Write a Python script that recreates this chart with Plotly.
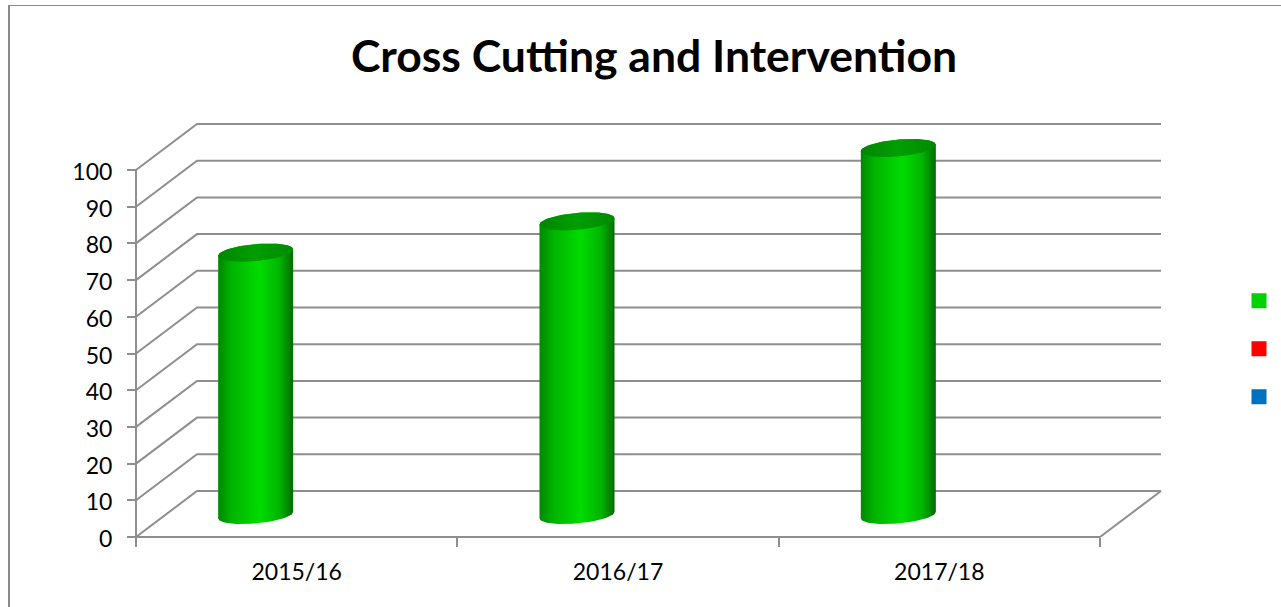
import numpy as np
import plotly.graph_objects as go

# Chart data
title_text = "Cross Cutting and Intervention"
years = ["2015/16", "2016/17", "2017/18"]
series_a = [71.5, 80, 100]
series_b = []
series_c = []
value_ticks = list(range(0, 101, 10))

# Colours
GRID = "#8e8e8e"
SWATCHES = ["#00d200", "#ff0000", "#0070c0"]
FONT = "Lato, Open Sans, sans-serif"

# Figure size, plot width (a strip on the right holds the legend) and the
# pixel box of the front axes
W, H = 1281, 607
PLOT_W = W - 50
L, RIGHT, T, BOTTOM = 136, 1100, 170, 537
per_cat = (RIGHT - L) / 3
per_val = (BOTTOM - T) / 100

# Oblique depth of the floor and back wall, in axis units
DEPTH_X = 61 / per_cat
DEPTH_Y = 46 / per_val

# Cylinder proportions, in axis units
BAR_SHIFT = 0.5 - 41 / per_cat
RX = 37.5 / per_cat
RY = 8.5 / per_val
TILT = 3.2 / per_val
BASE = 22 / per_val


def arc(cx, cy, t):
    return cx + RX * np.cos(t), cy + RY * np.sin(t) + TILT * np.cos(t)


fig = go.Figure()

# Wall and floor grid: a diagonal from the axis, then a run along the back wall
gx, gy = [], []
for v in value_ticks:
    gx += [0, DEPTH_X, 3 + DEPTH_X, None]
    gy += [v, v + DEPTH_Y, v + DEPTH_Y, None]
gx += [3, 3 + DEPTH_X, None]
gy += [0, DEPTH_Y, None]
# Front axis lines
gx += [0, 3, None, 0, 0, None]
gy += [0, 0, None, 0, 100, None]
fig.add_trace(go.Scatter(x=gx, y=gy, mode="lines", showlegend=False,
                         hoverinfo="skip", line=dict(color=GRID, width=2)))

# Cylinders: shaded body with a darker elliptical cap
upper = np.linspace(0, np.pi, 40)
lower = np.linspace(np.pi, 2 * np.pi, 40)
whole = np.linspace(0, 2 * np.pi, 80)
for i, (year, val) in enumerate(zip(years, series_a)):
    cx = i + BAR_SHIFT
    tx, ty = arc(cx, BASE + val, upper)
    bx, by = arc(cx, BASE, lower)
    fig.add_trace(go.Scatter(
        x=np.r_[tx, bx, tx[0]], y=np.r_[ty, by, ty[0]],
        mode="lines", fill="toself", showlegend=False,
        name=year, line=dict(width=0, color="#00d200"),
        fillgradient=dict(type="horizontal", colorscale=[
            [0, "#008800"], [0.18, "#00b400"], [0.55, "#00dc00"],
            [0.82, "#00b400"], [1, "#006c00"]]),
    ))
    cap_x, cap_y = arc(cx, BASE + val, whole)
    fig.add_trace(go.Scatter(
        x=cap_x, y=cap_y,
        mode="lines", fill="toself", showlegend=False,
        name=year, line=dict(width=0, color="#009a00"),
        fillgradient=dict(type="horizontal", colorscale=[
            [0, "#008600"], [0.5, "#009e00"], [1, "#008a00"]]),
    ))

# Legend swatches for the three series; their names are blank
for colour, vals in zip(SWATCHES, [series_a, series_b, series_c]):
    fig.add_trace(go.Scatter(
        x=[None], y=[None], mode="markers", name=" ", legendgroup=colour,
        marker=dict(symbol="square", size=15, color=colour, line=dict(width=0)),
    ))

# Chart-area border on the left and top edges
shapes = [
    dict(type="line", xref="paper", yref="paper", layer="below",
         x0=9 / PLOT_W, x1=9 / PLOT_W, y0=0, y1=1 - 5.5 / H,
         line=dict(color="#8a8a8a", width=2)),
    dict(type="line", xref="paper", yref="paper", layer="below",
         x0=8 / PLOT_W, x1=W / PLOT_W, y0=1 - 5.5 / H, y1=1 - 5.5 / H,
         line=dict(color="#8a8a8a", width=1)),
]

fig.update_layout(
    width=W, height=H, autosize=False,
    margin=dict(l=0, r=W - PLOT_W, t=0, b=0, pad=0),
    paper_bgcolor="white", plot_bgcolor="white",
    shapes=shapes,
    title=dict(text=f"<b>{title_text}</b>", font=dict(family=FONT, size=44.5, color="black"),
               xref="container", x=654 / W, xanchor="center",
               yref="container", y=1 - 56 / H, yanchor="middle"),
    xaxis=dict(
        domain=[0, 1], anchor="free", position=(H - BOTTOM) / H,
        range=[-L / per_cat, (PLOT_W - L) / per_cat],
        showgrid=False, zeroline=False, fixedrange=True, showline=False,
        tickmode="array", tickvals=[0.5, 1.5, 2.5], ticktext=years,
        ticks="outside", ticklen=14, tickcolor="rgba(0,0,0,0)", tickwidth=1,
        tickfont=dict(family=FONT, size=23, color="black"),
        minor=dict(tickmode="array", tickvals=[0, 1, 2, 3], ticks="outside",
                   ticklen=9, tickcolor=GRID, tickwidth=2, showgrid=False),
    ),
    yaxis=dict(
        domain=[0, 1], anchor="free", position=L / PLOT_W,
        range=[(BOTTOM - H) / per_val, BOTTOM / per_val],
        showgrid=False, zeroline=False, fixedrange=True, showline=False,
        tickmode="array", tickvals=value_ticks,
        ticks="outside", ticklen=9, tickcolor=GRID, tickwidth=2, ticklabelstandoff=10,
        ticklabelshift=2,
        tickfont=dict(family=FONT, size=23, color="black"),
    ),
    legend=dict(xref="container", yref="container",
                x=1239 / W, xanchor="left", y=1 - 284.5 / H, yanchor="top",
                font=dict(family=FONT, size=15), tracegroupgap=25.5,
                entrywidth=1, entrywidthmode="pixels",
                itemsizing="trace", bgcolor="rgba(0,0,0,0)", borderwidth=0),
    hovermode="closest",
)

fig.write_html("out.html", config=dict(displayModeBar=False))
